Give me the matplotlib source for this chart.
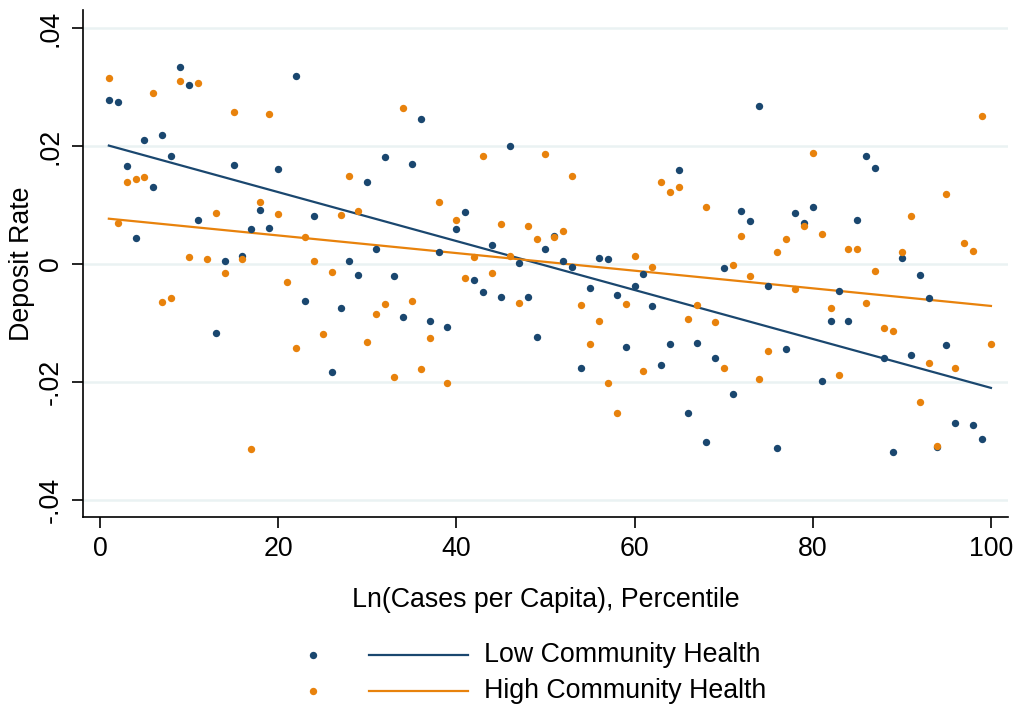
import numpy as np
import matplotlib
matplotlib.use("Agg")
import matplotlib.pyplot as plt
from matplotlib.lines import Line2D

plt.rcParams['font.family'] = ['Liberation Sans', 'DejaVu Sans']

# percentile bins of log cases per capita
pctile = list(range(1, 101))

# mean deposit rate by percentile, low community health counties (nan = empty bin)
low_health = [
    0.0279, 0.0275, 0.0166, 0.0044, 0.0211, 0.0131, 0.0219, 0.0184, 0.0334, 0.0303,
    0.0075, np.nan, -0.0117, 0.0005, 0.0168, 0.0014, 0.0059, 0.0091, 0.0061, 0.0161,
    np.nan, 0.0319, -0.0062, 0.0081, np.nan, -0.0183, -0.0075, 0.0005, -0.0018, 0.0140,
    0.0026, 0.0181, -0.0021, -0.0089, 0.0170, 0.0246, -0.0097, 0.0020, -0.0107, 0.0060,
    0.0089, -0.0027, -0.0047, 0.0032, -0.0055, 0.0200, 0.0002, -0.0055, -0.0123, 0.0026,
    0.0048, 0.0006, -0.0005, -0.0177, -0.0040, 0.0010, 0.0008, -0.0052, -0.0141, -0.0038,
    -0.0017, -0.0071, -0.0172, -0.0135, 0.0159, -0.0252, -0.0134, -0.0302, -0.0160, -0.0006,
    -0.0220, 0.0090, 0.0073, 0.0269, -0.0037, -0.0312, -0.0144, 0.0086, 0.0069, 0.0096,
    -0.0198, -0.0096, -0.0045, -0.0096, 0.0074, 0.0184, 0.0163, -0.0160, -0.0319, 0.0010,
    -0.0155, -0.0018, -0.0057, -0.0311, -0.0137, -0.0269, np.nan, -0.0273, -0.0297, np.nan,
]

# mean deposit rate by percentile, high community health counties
high_health = [
    0.0316, 0.0070, 0.0139, 0.0145, 0.0148, 0.0290, -0.0065, -0.0057, 0.0310, 0.0012,
    0.0307, 0.0009, 0.0087, -0.0015, 0.0258, 0.0008, -0.0313, 0.0105, 0.0254, 0.0085,
    -0.0030, -0.0143, 0.0046, 0.0006, -0.0119, -0.0013, 0.0083, 0.0149, 0.0090, -0.0132,
    -0.0085, -0.0067, -0.0192, 0.0264, -0.0062, -0.0178, -0.0125, 0.0106, -0.0201, 0.0075,
    -0.0023, 0.0012, 0.0184, -0.0015, 0.0068, 0.0014, -0.0066, 0.0065, 0.0043, 0.0186,
    0.0046, 0.0056, 0.0150, -0.0069, -0.0135, -0.0096, -0.0201, -0.0252, -0.0068, 0.0013,
    -0.0182, -0.0005, 0.0139, 0.0123, 0.0130, -0.0093, -0.0070, 0.0097, -0.0099, -0.0176,
    -0.0001, 0.0047, -0.0020, -0.0195, -0.0147, 0.0021, 0.0042, -0.0043, 0.0064, 0.0188,
    0.0051, -0.0075, -0.0188, 0.0026, 0.0025, -0.0066, -0.0011, -0.0108, -0.0113, 0.0020,
    0.0082, -0.0234, -0.0168, -0.0308, 0.0119, -0.0176, 0.0035, 0.0023, 0.0252, -0.0135,
]

# fitted values of the county-level linear fit at the ends of the percentile range
fit_x = [1, 100]
fit_low = [0.0201, -0.0210]
fit_high = [0.0077, -0.0071]

series_labels = ["Low Community Health", "High Community Health"]
x_ticks = [0, 20, 40, 60, 80, 100]
y_ticks = [0.04, 0.02, 0, -0.02, -0.04]
y_ticklabels = [".04", ".02", "0", "-.02", "-.04"]

navy = "#1a476f"
orange = "#e8820c"
grid_col = "#eaf2f3"
fs = 19.3

fig = plt.figure(figsize=(10.16, 7.09), dpi=100)
ax = fig.add_axes([0.0817, 0.2708, 0.9103, 0.7151])

x = np.array(pctile, dtype=float)
for vals, fit, col in [(low_health, fit_low, navy), (high_health, fit_high, orange)]:
    y = np.array(vals, dtype=float)
    ok = ~np.isnan(y)
    ax.plot(x[ok], y[ok], 'o', color=col, markersize=5.3, markeredgewidth=0, zorder=3)
    ax.plot(fit_x, fit, color=col, linewidth=1.6, zorder=2)

ax.set_xlim(-1.9, 101.9)
ax.set_ylim(-0.0429, 0.0431)
ax.set_xticks(x_ticks)
ax.set_yticks(y_ticks)
ax.set_yticklabels(y_ticklabels, rotation=90, va='center')
ax.grid(axis='y', color=grid_col, linewidth=1.8)
ax.set_axisbelow(True)
for s in ['top', 'right']:
    ax.spines[s].set_visible(False)
for s in ['left', 'bottom']:
    ax.spines[s].set_linewidth(1.2)
ax.tick_params(axis='both', direction='out', length=8, width=1.2,
               labelsize=fs, pad=6)
ax.set_ylabel("Deposit Rate", fontsize=fs, va='center')
ax.yaxis.set_label_coords(-0.066, 0.5)
ax.set_xlabel("Ln(Cases per Capita), Percentile", fontsize=fs, va='center')
ax.xaxis.set_label_coords(0.5, -0.164)

# legend: marker key, line key, label
rows = [0.0762, 0.0254]
for col, lab, yy in zip([navy, orange], series_labels, rows):
    fig.add_artist(Line2D([0.308], [yy], marker='o', color=col, markersize=5.3,
                          markeredgewidth=0, linestyle='none',
                          transform=fig.transFigure))
    fig.add_artist(Line2D([0.3632, 0.4606], [yy, yy], color=col, linewidth=1.6,
                          transform=fig.transFigure))
    fig.text(0.4764, yy, lab, fontsize=fs, va='center', ha='left')

fig.savefig("out.png", dpi=100, facecolor='white')
